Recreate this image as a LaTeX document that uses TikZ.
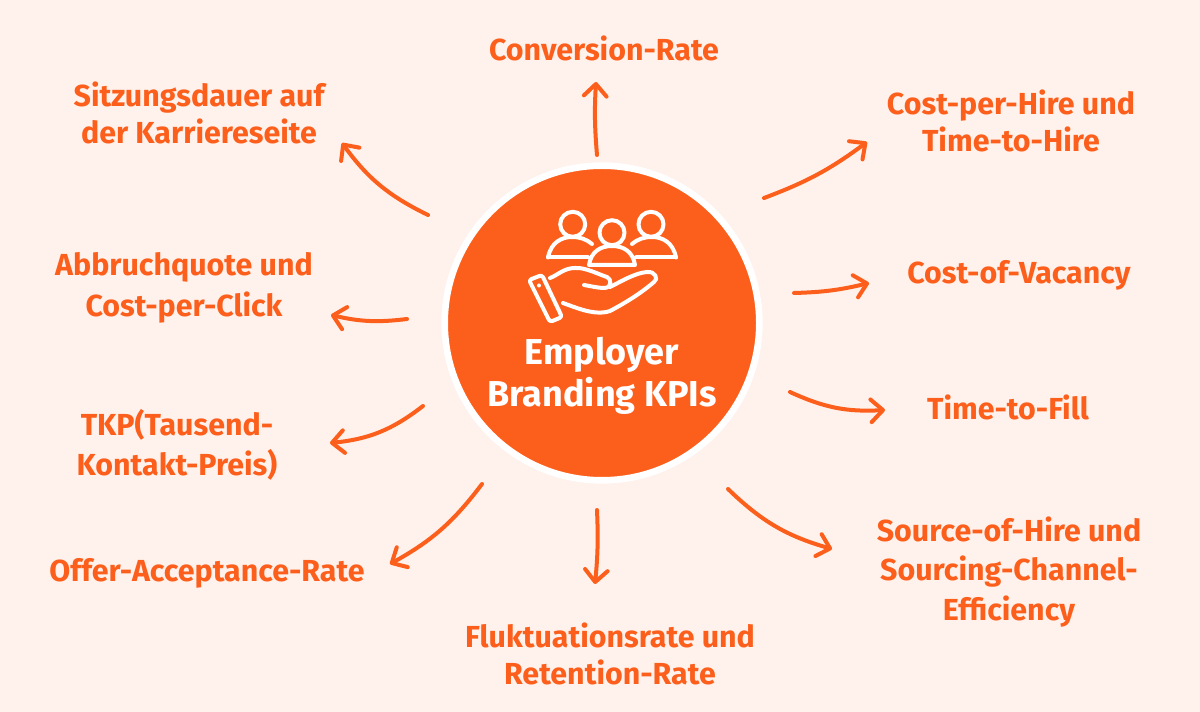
\documentclass[tikz,border=0pt]{standalone}
\usepackage{fontspec}
\setmainfont{Fira Sans}
\usetikzlibrary{arrows.meta}
\definecolor{bgc}{HTML}{FFF1EB}
\definecolor{org}{HTML}{FC5F1C}
\tikzset{
 lab/.style={text=org,font=\fontsize{22.8}{29.5}\selectfont\bfseries,align=center,inner sep=0pt},
 labtight/.style={lab,font=\fontsize{22.8}{27.75}\selectfont\bfseries},
 lablong/.style={lab,font=\fontsize{22.8}{30.5}\selectfont\bfseries},
 conn/.style={draw=org,line width=3pt,line cap=round,-{Straight Barb[length=9pt,width=17pt,line width=3pt,round]}},
 ico/.style={draw=white,line width=3pt,line join=round,line cap=round}
}
\begin{document}
\begin{tikzpicture}[x=0.75pt,y=-0.75pt]
\useasboundingbox (0,0) rectangle (1200,712);
\fill[bgc] (0,0) rectangle (1200,712);
\node[circle,fill=org,draw=white,line width=5pt,minimum size=236pt,inner sep=0pt] (hub) at (602,323) {};
\node[text=white,font=\fontsize{27}{31.5}\selectfont\bfseries,align=center,inner sep=0pt] (title) at (602,376) {Employer\\Branding KPIs};
% icon
\draw[ico] (572.7,224.3) circle [radius=12.5];
\draw[ico] (651,224.3) circle [radius=12.5];
\draw[ico] (548,257.5) .. controls (551,242) and (562,237) .. (572,237) .. controls (580,237) and (586,239) .. (592,244);
\draw[ico] (548,257.5) -- (588,257.5);
\draw[ico] (676,257.5) .. controls (673,242) and (662,237) .. (652,237) .. controls (644,237) and (638,239) .. (632,244);
\draw[ico] (676,257.5) -- (636,257.5);
\draw[ico] (612,232.7) circle [radius=12.5];
\draw[ico] (589,265) .. controls (591,252) and (600,246) .. (612,246) .. controls (624,246) and (633,252) .. (635,265) -- cycle;
\draw[ico,rounded corners=2pt] (529,280) -- (542,275) -- (562,317) -- (550,322) -- cycle;
\fill[white] (539,285.5) circle [radius=2];
\draw[ico] (550,278) .. controls (558,275) and (564,268) .. (575,268) .. controls (585,267) and (600,275) .. (607,277) .. controls (612,279) and (612,288) .. (604,288) .. controls (598,288) and (590,286) .. (584,285);
\draw[ico] (610,287) .. controls (622,281) and (635,273) .. (647,272) .. controls (655,271) and (659,279) .. (654,282) .. controls (640,294) and (625,303) .. (610,311) .. controls (595,316) and (577,308) .. (563,303);
% labels
\node[lab] (n1) at (604,48) {Conversion-Rate};
\node[labtight] (n2) at (1011,121) {Cost-per-Hire und\\Time-to-Hire};
\node[lab] (n3) at (1019,275) {Cost-of-Vacancy};
\node[lab] (n4) at (1008,407) {Time-to-Fill};
\node[lab] (n5) at (1009,572) {Source-of-Hire und\\Sourcing-Channel-\\Efficiency};
\node[labtight] (n6) at (610,654) {Fluktuationsrate und\\Retention-Rate};
\node[lab] (n7) at (207,573) {Offer-Acceptance-Rate};
\node[lab] (n8) at (177,445) {TKP(Tausend-\\Kontakt-Preis)};
\node[lablong] (n9) at (184,288) {Abbruchquote und\\Cost-per-Click};
\node[labtight] (n10) at (199,113) {Sitzungsdauer auf\\der Karriereseite};
% connector ends
\coordinate (s1) at (597,155); \coordinate (e1) at (596,82);
\coordinate (s2) at (764,198); \coordinate (e2) at (867,142);
\coordinate (s3) at (794,293); \coordinate (e3) at (869,283);
\coordinate (s4) at (790,392); \coordinate (e4) at (885,410);
\coordinate (s5) at (728,489); \coordinate (e5) at (832,549);
\coordinate (s6) at (597,510); \coordinate (e6) at (595,584);
\coordinate (s7) at (482,484); \coordinate (e7) at (390,564);
\coordinate (s8) at (423,406); \coordinate (e8) at (330,443);
\coordinate (s9) at (407,319); \coordinate (e9) at (331,315);
\coordinate (s10) at (428,215); \coordinate (e10) at (342,143);
\draw[conn] (s1) to[bend left=4] (e1);
\draw[conn] (s2) to[bend right=8] (e2);
\draw[conn] (s3) to[bend right=6] (e3);
\draw[conn] (s4) to[bend right=14] (e4);
\draw[conn] (s5) to[bend right=14] (e5);
\draw[conn] (s6) to[bend left=4] (e6);
\draw[conn] (s7) to[bend left=12] (e7);
\draw[conn] (s8) to[bend left=16] (e8);
\draw[conn] (s9) to[bend left=10] (e9);
\draw[conn] (s10) to[bend left=14] (e10);
\end{tikzpicture}
\end{document}
